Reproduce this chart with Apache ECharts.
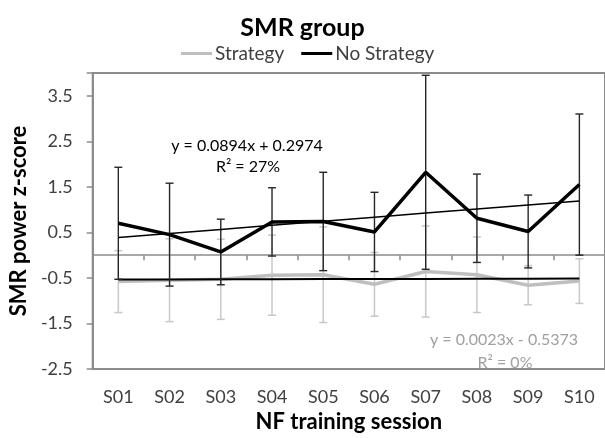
<!DOCTYPE html>
<html>
<head>
<meta charset="utf-8">
<script src="https://cdn.jsdelivr.net/npm/echarts@6/dist/echarts.min.js"></script>
<style>
  html, body { margin: 0; padding: 0; background: #fff; }
  #chart { width: 605px; height: 438px; }
</style>
</head>
<body>
<div id="chart"></div>
<script>
  // values
  var sessions = ['S01', 'S02', 'S03', 'S04', 'S05', 'S06', 'S07', 'S08', 'S09', 'S10']
  var strategyMean = [-0.58, -0.55, -0.53, -0.44, -0.43, -0.64, -0.36, -0.43, -0.66, -0.57]
  var strategyErr = [0.68, 0.91, 0.88, 0.88, 1.05, 0.70, 1.00, 0.83, 0.43, 0.49]
  var noStrategyMean = [0.70, 0.45, 0.07, 0.73, 0.74, 0.51, 1.82, 0.81, 0.52, 1.55]
  var noStrategyErr = [1.23, 1.13, 0.72, 0.75, 1.08, 0.87, 2.13, 0.97, 0.80, 1.55]
  // trend line equations printed on the chart
  var noStrategyTrend = {slope: 0.0894, intercept: 0.2974, label: 'y = 0.0894x + 0.2974', r2: 'R² = 27%'}
  var strategyTrend = {slope: 0.0023, intercept: -0.5373, label: 'y = 0.0023x - 0.5373', r2: 'R² = 0%'}

  var FONT = 'Lato'
  var TEXT = '#404040'

  function trendData (t) {
    return sessions.map(function (s, i) { return t.slope * (i + 1) + t.intercept })
  }

  function errorBars (means, errs, color, width, z) {
    return {
      type: 'custom',
      silent: true,
      z: z,
      encode: {x: 0, y: [1, 2]},
      data: means.map(function (m, i) { return [i, m - errs[i], m + errs[i]] }),
      renderItem: function (params, api) {
        var lo = api.coord([api.value(0), api.value(1)])
        var hi = api.coord([api.value(0), api.value(2)])
        var w = 4
        var st = {stroke: color, lineWidth: width}
        return {
          type: 'group',
          children: [
            {type: 'line', shape: {x1: hi[0], y1: hi[1], x2: lo[0], y2: lo[1]}, style: st},
            {type: 'line', shape: {x1: hi[0] - w, y1: hi[1], x2: hi[0] + w, y2: hi[1]}, style: st},
            {type: 'line', shape: {x1: lo[0] - w, y1: lo[1], x2: lo[0] + w, y2: lo[1]}, style: st}
          ]
        }
      }
    }
  }

  var chart = echarts.init(document.getElementById('chart'))
  chart.setOption({
    animation: false,
    title: {
      text: 'SMR group',
      left: 'center',
      top: 10,
      textStyle: {fontFamily: FONT, fontSize: 25, fontWeight: 'bold', color: '#000'}
    },
    legend: {
      top: 39,
      left: 176,
      icon: 'rect',
      itemWidth: 31,
      itemHeight: 3,
      itemGap: 17,
      data: ['Strategy', 'No Strategy'],
      textStyle: {fontFamily: FONT, fontSize: 19, color: TEXT, padding: [0, 0, 0, -2]}
    },
    grid: {
      left: 87,
      top: 73,
      width: 524,
      height: 304,
      show: true,
      borderColor: '#8c8c8c',
      borderWidth: 2
    },
    xAxis: [{
      type: 'category',
      data: sessions,
      position: 'bottom',
      axisLine: {show: false, onZero: false},
      axisTick: {show: false},
      axisLabel: {fontFamily: FONT, fontSize: 18, color: TEXT, margin: 19},
      name: 'NF training session',
      nameLocation: 'middle',
      nameGap: 42,
      nameTextStyle: {fontFamily: FONT, fontSize: 22, fontWeight: 'bold', color: '#000'}
    }, {
      type: 'category',
      data: sessions,
      position: 'bottom',
      axisLine: {show: true, onZero: true, lineStyle: {color: '#8c8c8c', width: 1.5}},
      axisTick: {show: true, length: 5, lineStyle: {color: '#8c8c8c', width: 1.5}},
      axisLabel: {show: false}
    }],
    yAxis: {
      type: 'value',
      min: -2.5,
      max: 4,
      interval: 1,
      splitLine: {show: false},
      axisLine: {show: true, lineStyle: {color: '#8c8c8c', width: 2}},
      axisTick: {show: true, length: 6, lineStyle: {color: '#8c8c8c', width: 1.5}},
      axisLabel: {
        fontFamily: FONT, fontSize: 18, color: TEXT, margin: 20,
        formatter: function (v) { return v > 3.9 ? '' : v.toFixed(1) }
      },
      name: 'SMR power z-score',
      nameLocation: 'middle',
      nameGap: 58,
      nameTextStyle: {fontFamily: FONT, fontSize: 22, fontWeight: 'bold', color: '#000'}
    },
    series: [
      errorBars(strategyMean, strategyErr, '#c8c8c8', 1.5, 1),
      {
        name: 'Strategy',
        type: 'line',
        data: strategyMean,
        symbol: 'none',
        color: '#bfbfbf',
        lineStyle: {color: '#bfbfbf', width: 3.5},
        z: 2
      },
      {
        type: 'line',
        data: trendData(strategyTrend),
        symbol: 'none',
        silent: true,
        lineStyle: {color: '#000', width: 2},
        z: 3
      },
      errorBars(noStrategyMean, noStrategyErr, '#262626', 1.4, 4),
      {
        name: 'No Strategy',
        type: 'line',
        data: noStrategyMean,
        symbol: 'none',
        color: '#000',
        lineStyle: {color: '#000', width: 3.5},
        z: 5
      },
      {
        type: 'line',
        data: trendData(noStrategyTrend),
        symbol: 'none',
        silent: true,
        lineStyle: {color: '#000', width: 1.5},
        z: 6
      }
    ],
    graphic: [
      {type: 'text', x: 247, y: 146, style: {text: noStrategyTrend.label, fill: '#000', font: '16px Lato', align: 'center', verticalAlign: 'middle'}},
      {type: 'text', x: 248, y: 167, style: {text: noStrategyTrend.r2, fill: '#000', font: '16px Lato', align: 'center', verticalAlign: 'middle'}},
      {type: 'text', x: 504, y: 340, style: {text: strategyTrend.label, fill: '#a0a0a0', font: '16px Lato', align: 'center', verticalAlign: 'middle'}},
      {type: 'text', x: 505, y: 363, style: {text: strategyTrend.r2, fill: '#a0a0a0', font: '16px Lato', align: 'center', verticalAlign: 'middle'}}
    ]
  })
</script>
</body>
</html>
